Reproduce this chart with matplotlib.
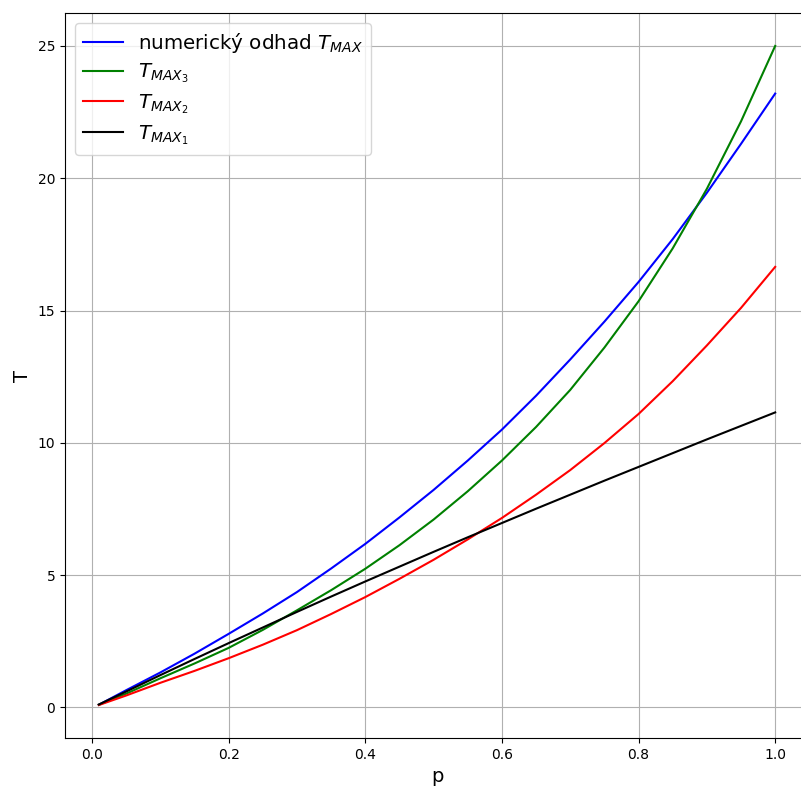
import matplotlib
matplotlib.use("Agg")
import matplotlib.pyplot as plt

p = [0.01, 0.05, 0.1, 0.15, 0.2, 0.25, 0.3, 0.35, 0.4, 0.45, 0.5,
     0.55, 0.6, 0.65, 0.7, 0.75, 0.8, 0.85, 0.9, 0.95, 1.0]

t_num = [0.1, 0.65, 1.32, 2.03, 2.78, 3.55, 4.36, 5.25, 6.18, 7.18, 8.22,
         9.33, 10.5, 11.78, 13.15, 14.58, 16.08, 17.7, 19.45, 21.3, 23.2]
t_max3 = [0.1, 0.52, 1.1, 1.66, 2.25, 2.93, 3.67, 4.43, 5.24, 6.13, 7.1,
          8.17, 9.33, 10.6, 12.0, 13.6, 15.35, 17.35, 19.6, 22.15, 25.0]
t_max2 = [0.09, 0.45, 0.93, 1.38, 1.86, 2.37, 2.92, 3.53, 4.17, 4.86, 5.58,
          6.35, 7.16, 8.04, 8.97, 9.99, 11.09, 12.33, 13.68, 15.1, 16.65]
t_max1 = [0.11, 0.6, 1.22, 1.83, 2.43, 3.02, 3.61, 4.19, 4.76, 5.32, 5.88,
          6.43, 6.97, 7.51, 8.04, 8.57, 9.09, 9.61, 10.13, 10.64, 11.15]

fig = plt.figure(figsize=(8.01, 7.88), dpi=100)
ax = fig.add_axes([65 / 801, 50 / 788, 744 / 801, 725 / 788])

ax.plot(p, t_num, color="blue", label=r"numerický odhad $T_{MAX}$")
ax.plot(p, t_max3, color="green", label=r"$T_{MAX_3}$")
ax.plot(p, t_max2, color="red", label=r"$T_{MAX_2}$")
ax.plot(p, t_max1, color="black", label=r"$T_{MAX_1}$")

ax.set_xlabel("p", fontsize=14)
ax.set_ylabel("T", fontsize=14)
ax.grid(True)
ax.legend(loc="upper left", fontsize=14.3, labelspacing=0.35)

fig.savefig("out.png", dpi=100)
